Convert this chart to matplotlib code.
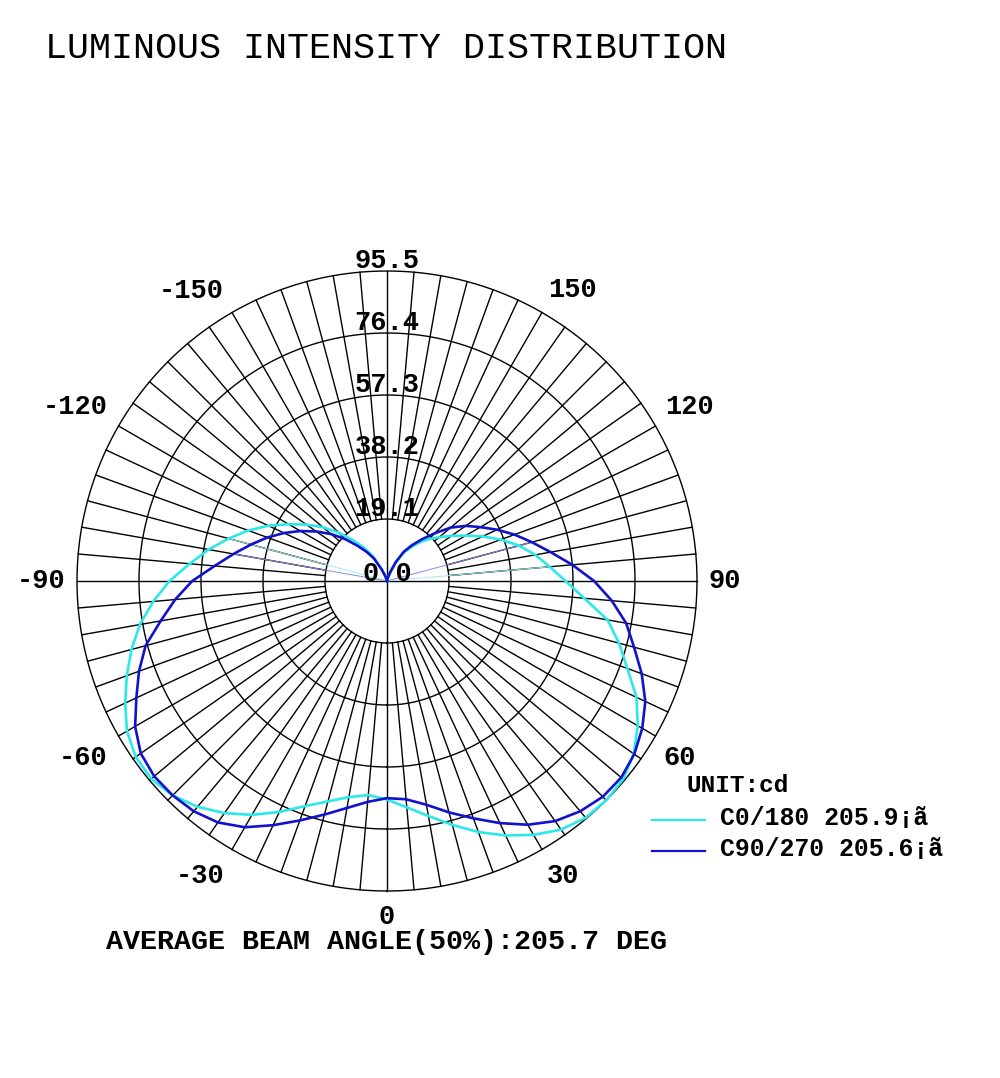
import numpy as np
import matplotlib
matplotlib.use("Agg")
import matplotlib.pyplot as plt
from matplotlib.lines import Line2D

W, H = 1000, 1078
FONT = "Liberation Mono"

# gamma angles (deg) and intensity (cd) for each half plane
GAMMA = list(range(0, 181, 5))
C0 = [67.3, 70.0, 73.5, 77.8, 82.3, 86.5, 90.3, 93.5, 95.2, 95.5,
      95.0, 92.8, 89.2, 84.8, 78.8, 74.0, 69.0, 61.0, 55.0, 50.3,
      46.4, 42.1, 37.3, 32.5, 28.0, 24.3, 21.0, 18.2, 15.5, 12.5,
      10.0, 6.0, 2.8, 1.2, 0.5, 0.2, 0.0]
C180 = [67.3, 66.2, 67.6, 70.3, 73.8, 78.5, 83.2, 87.3, 90.8, 93.4,
        94.8, 94.5, 92.5, 89.0, 85.3, 81.5, 77.3, 72.3, 67.0, 61.0,
        55.8, 50.5, 45.5, 40.3, 35.0, 30.3, 25.8, 21.0, 16.5, 12.8,
        9.0, 4.2, 1.8, 0.8, 0.3, 0.1, 0.0]
C90 = [66.9, 67.5, 70.0, 73.8, 77.8, 82.3, 86.7, 90.3, 92.6, 94.0,
       94.2, 93.0, 90.8, 87.8, 83.5, 78.8, 74.8, 69.5, 63.8, 57.3,
       51.2, 46.2, 41.8, 37.4, 33.2, 29.6, 25.6, 20.8, 16.8, 13.5,
       10.5, 6.5, 2.8, 1.0, 0.4, 0.1, 0.0]
C270 = [66.9, 68.3, 71.0, 74.5, 78.5, 83.0, 87.6, 90.8, 92.6, 93.4,
        93.6, 92.6, 89.6, 85.2, 81.3, 77.0, 70.8, 65.5, 60.0, 53.3,
        48.0, 43.4, 39.2, 35.0, 30.8, 26.6, 22.5, 18.3, 14.2, 11.0,
        8.0, 4.0, 1.7, 0.7, 0.3, 0.1, 0.0]

RINGS = [19.1, 38.2, 57.3, 76.4, 95.5]
ANGLE_LABELS = [0, 30, 60, 90, 120, 150, -150, -120, -90, -60, -30]
LEGEND = ["C0/180 205.9\u00a1\u00e3", "C90/270 205.6\u00a1\u00e3"]
CYAN = "#2CE8E8"
BLUE = "#1212CC"

# where each angle label sits: (direction in deg, distance in px from centre)
LABEL_SPOT = {0: (0, 336), 30: (30.8, 343), 60: (58.9, 342), 90: (90, 338),
              120: (119.9, 349), 150: (147.5, 345), -150: (-146, 350),
              -120: (-119.1, 357), -90: (-90, 346), -60: (-59.8, 352),
              -30: (-32.4, 349)}


def full_curve(right, left):
    g = np.array(GAMMA, dtype=float)
    theta = np.concatenate([-g[::-1], g[1:]])
    vals = np.concatenate([np.array(left)[::-1], np.array(right)[1:]])
    return np.deg2rad(theta), vals


def fx(px):
    return px / W


def fy(py):
    return 1 - py / H


fig = plt.figure(figsize=(W / 100, H / 100), dpi=100)
cx, cy, rad = 387, 581, 310
ax = fig.add_axes([fx(cx - rad), fy(cy + rad), 2 * rad / W, 2 * rad / H],
                  projection="polar")
ax.set_theta_zero_location("S")
ax.set_theta_direction(1)
ax.set_rlim(0, RINGS[-1])
ax.grid(False)
ax.set_xticks([])
ax.set_yticks([])
ax.spines["polar"].set_visible(False)
ax.patch.set_alpha(0)
per_px = RINGS[-1] / rad

# rings
t = np.linspace(0, 2 * np.pi, 721)
for r in RINGS:
    ax.plot(t, np.full_like(t, r), color="black", lw=1.0, clip_on=False)

# spokes every 5 degrees, main axes through the centre
for a in range(0, 360, 5):
    start = 0 if a % 90 == 0 else RINGS[0]
    ax.plot([np.deg2rad(a)] * 2, [start, RINGS[-1]], color="black",
            lw=1.0, clip_on=False)

# faint segments from the centre
for g, vals, col in [(-105, C180, "#9FEFEF"), (95, C0, "#9FEFEF"),
                     (-100, C270, "#8A8AE0"), (105, C90, "#8A8AE0")]:
    i = GAMMA.index(abs(g))
    ax.plot([0, np.deg2rad(g)], [0, vals[i]], color=col, lw=0.7)

th, v = full_curve(C0, C180)
ax.plot(th, v, color=CYAN, lw=1.9, clip_on=False)
th, v = full_curve(C90, C270)
ax.plot(th, v, color=BLUE, lw=1.9, clip_on=False)

# ring labels
for r in RINGS:
    ax.text(np.pi, r + 3 * per_px, f"{r:.1f}", ha="center", va="baseline",
            family=FONT, weight="bold", fontsize=19.5, clip_on=False)
ax.text(np.pi, 0, "0 0", ha="center", va="baseline",
        family=FONT, weight="bold", fontsize=19.5)

# angle labels
for a in ANGLE_LABELS:
    deg, dist = LABEL_SPOT[a]
    ax.text(np.deg2rad(deg), dist * per_px, str(a), ha="center",
            va="center", family=FONT, weight="bold", fontsize=19.5,
            clip_on=False)

fig.text(fx(45), fy(48), "LUMINOUS INTENSITY DISTRIBUTION", ha="left",
         va="center", family=FONT, fontsize=26.4)
fig.text(fx(386), fy(942), "AVERAGE BEAM ANGLE(50%):205.7 DEG",
         ha="center", va="center", family=FONT, weight="bold", fontsize=20.4)

fig.text(fx(687), fy(786), "UNIT:cd", ha="left", va="center",
         family=FONT, weight="bold", fontsize=17.6)
for label, col, y in zip(LEGEND, [CYAN, BLUE], [820, 851]):
    fig.add_artist(Line2D([fx(652), fx(705)], [fy(y), fy(y)], color=col,
                          lw=1.6, transform=fig.transFigure))
    fig.text(fx(720), fy(y - 2), label, ha="left", va="center",
             family=FONT, weight="bold", fontsize=17.9)

fig.savefig("out.png", dpi=100, facecolor="white")
